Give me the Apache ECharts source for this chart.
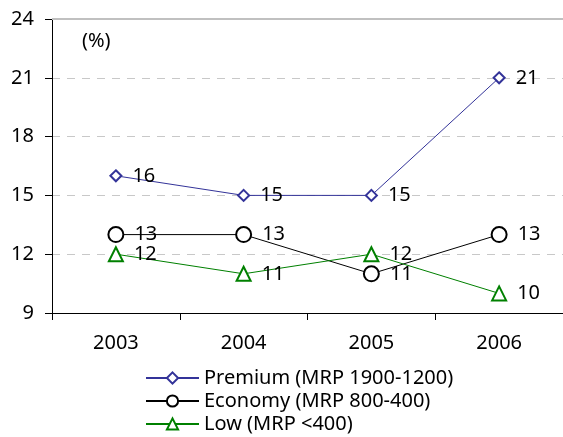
<!DOCTYPE html>
<html>
<head>
<meta charset="utf-8">
<script src="https://cdn.jsdelivr.net/npm/echarts@6/dist/echarts.min.js"></script>
<style>
  html, body { margin: 0; padding: 0; background: #fff; }
  #chart { width: 563px; height: 437px; }
</style>
</head>
<body>
<div id="chart"></div>
<script>
const years = ['2003', '2004', '2005', '2006'];
const premium = [16, 15, 15, 21];
const economy = [13, 13, 11, 13];
const low = [12, 11, 12, 10];

const font = 'Noto Sans';
const fs = 20;
const chart = echarts.init(document.getElementById('chart'));

function line(name, data, color, symbol, size, width) {
  return {
    name,
    type: 'line',
    data,
    symbol,
    symbolSize: size,
    showAllSymbol: true,
    lineStyle: { color, width: 1 },
    itemStyle: { color: '#fff', borderColor: color, borderWidth: width },
    label: {
      show: true,
      position: 'right',
      distance: 10,
      color: '#000',
      fontFamily: font,
      fontSize: fs
    },
    emphasis: { disabled: true },
    animation: false
  };
}

const series = [
  line('Premium (MRP 1900-1200)', premium, '#333399', 'diamond', 11, 2),
  line('Economy (MRP 800-400)', economy, '#000000', 'circle', 15, 2),
  line('Low (MRP <400)', low, '#008000', 'triangle', 14, 2)
];
// solid top border at the axis max
series[0].markLine = {
  silent: true,
  symbol: 'none',
  label: { show: false },
  lineStyle: { color: '#c0c0c0', type: 'solid', width: 2 },
  data: [{ yAxis: 24 }]
};

chart.setOption({
  backgroundColor: '#fff',
  animation: false,
  grid: { left: 52, top: 19, width: 516, height: 294, containLabel: false },
  title: {
    text: '(%)',
    left: 82,
    top: 31,
    padding: 0,
    textStyle: { fontFamily: font, fontSize: fs, fontWeight: 'normal', color: '#000' }
  },
  legend: {
    orient: 'vertical',
    left: 145,
    top: 367,
    height: 80,
    padding: 0,
    itemWidth: 53,
    itemHeight: 14,
    itemGap: 1,
    textStyle: { fontFamily: font, fontSize: fs, color: '#000', lineHeight: 22 },
    data: series.map(s => s.name)
  },
  xAxis: {
    type: 'category',
    data: years,
    boundaryGap: true,
    axisLine: { lineStyle: { color: '#000', width: 1 } },
    axisTick: { show: true, length: 7, lineStyle: { color: '#000' } },
    axisLabel: { fontFamily: font, fontSize: fs, color: '#000', margin: 20 }
  },
  yAxis: {
    type: 'value',
    min: 9,
    max: 24,
    interval: 3,
    axisLine: { show: true, lineStyle: { color: '#000', width: 1 } },
    axisTick: { show: true, length: 7, lineStyle: { color: '#000' } },
    axisLabel: { fontFamily: font, fontSize: fs, color: '#000', margin: 18 },
    splitLine: { show: true, lineStyle: { color: '#c8c8c8', type: [8, 7], width: 1 } }
  },
  series
});
</script>
</body>
</html>
